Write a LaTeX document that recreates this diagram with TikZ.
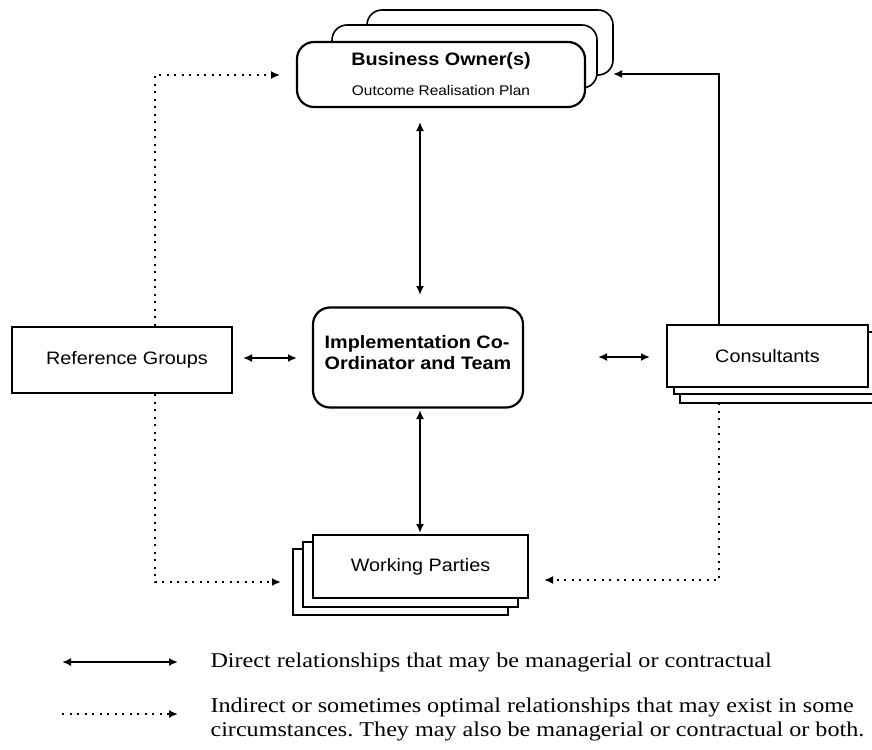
\documentclass[tikz,border=0pt]{standalone}
\usepackage{fontspec}
\setmainfont{Liberation Serif}
\setsansfont{Liberation Sans}
\newfontfamily\boxfont[FakeStretch=1.1]{Liberation Sans}
\newfontfamily\legendfont[FakeStretch=1.15]{Liberation Serif}
\usetikzlibrary{arrows.meta,positioning}
\frenchspacing

\begin{document}
\begin{tikzpicture}[x=1pt,y=-1pt,>={Latex[length=9pt,width=8pt]},
  box/.style={draw,line width=2.2pt,fill=white,font=\boxfont\fontsize{18}{21}\selectfont},
  backbox/.style={draw,line width=1.6pt,fill=white},
  roundbox/.style={box,rounded corners=17pt},
  direct/.style={<->,line width=1.8pt},
  indirect/.style={->,line width=2pt,dash pattern=on 2pt off 5.5pt},
  legend text/.style={anchor=west,align=left,font=\legendfont\fontsize{21}{24}\selectfont}]

  \useasboundingbox (0,0) rectangle (872,749);

            % business owners (stacked)
            \draw[backbox,rounded corners=15pt] (367,10) rectangle (613,75);
            \draw[backbox,rounded corners=15pt] (332,25) rectangle (597,88);
            \node[roundbox, minimum width=288pt, minimum height=65pt, align=center] (bo) at (441,74.5)
              {\bfseries Business Owner(s)\\[9pt]{\fontsize{14}{16}\selectfont Outcome Realisation Plan}};

            % co-ordinator
            \node[roundbox, minimum width=210pt, minimum height=100pt, align=left] (ic) at (418,357.5)
              {\bfseries Implementation Co-\\\bfseries Ordinator and Team\\[-11pt]};

            \node[box, minimum width=220pt, minimum height=66pt] (rg) at (122,360) {\hspace{10pt}Reference Groups};

            % consultants (stacked)
            \draw[backbox] (680,340) rectangle (880,403);
            \draw[backbox] (674,332) rectangle (876,394);
            \node[box, minimum width=201pt, minimum height=62pt] (cs) at (767.5,356) {Consultants};

            % working parties (stacked)
            \draw[backbox] (293,549) rectangle (508,615);
            \draw[backbox] (303,542) rectangle (518,607);
            \node[box, minimum width=215pt, minimum height=63pt] (wp) at (420.5,566.5) {Working Parties};

            \coordinate (tl) at (155,75);
            \coordinate (bl) at (155,582);
            \coordinate (tr) at (719,74);
            \coordinate (br) at (719,580);

            \draw[direct] (420,122) to (420,295);
            \draw[direct] (420,410) to (420,533);
            \draw[direct] (243,358) to (297,358);
            \draw[direct] (598,357) to (650,357);

            \draw[->,line width=1.8pt] (tr |- cs.north) -- (tr) -- (613,74);
            \draw[indirect] (tl |- rg.north) -- (tl) -- (280,75);
            \draw[indirect] (bl |- rg.south) -- (bl) -- (281,582);
            \draw[indirect] (br |- 0,403) -- (br) -- (544,580);

            % legend
            \coordinate (d1) at (62,662);
            \coordinate (d2) at (178,662);
            \coordinate (i1) at (62,714);
            \coordinate (i2) at (178,714);
            \draw[direct] (d1) to (d2);
            \draw[indirect] (i1) to (i2);
            \node[legend text] (dl) at (207,662) {Direct relationships that may be managerial or contractual};
            \node[legend text] (il) at (207,719) {Indirect or sometimes optimal relationships that may exist in some\\circumstances. They may also be managerial or contractual or both.};

            ;
        \end{tikzpicture}
\end{document}
